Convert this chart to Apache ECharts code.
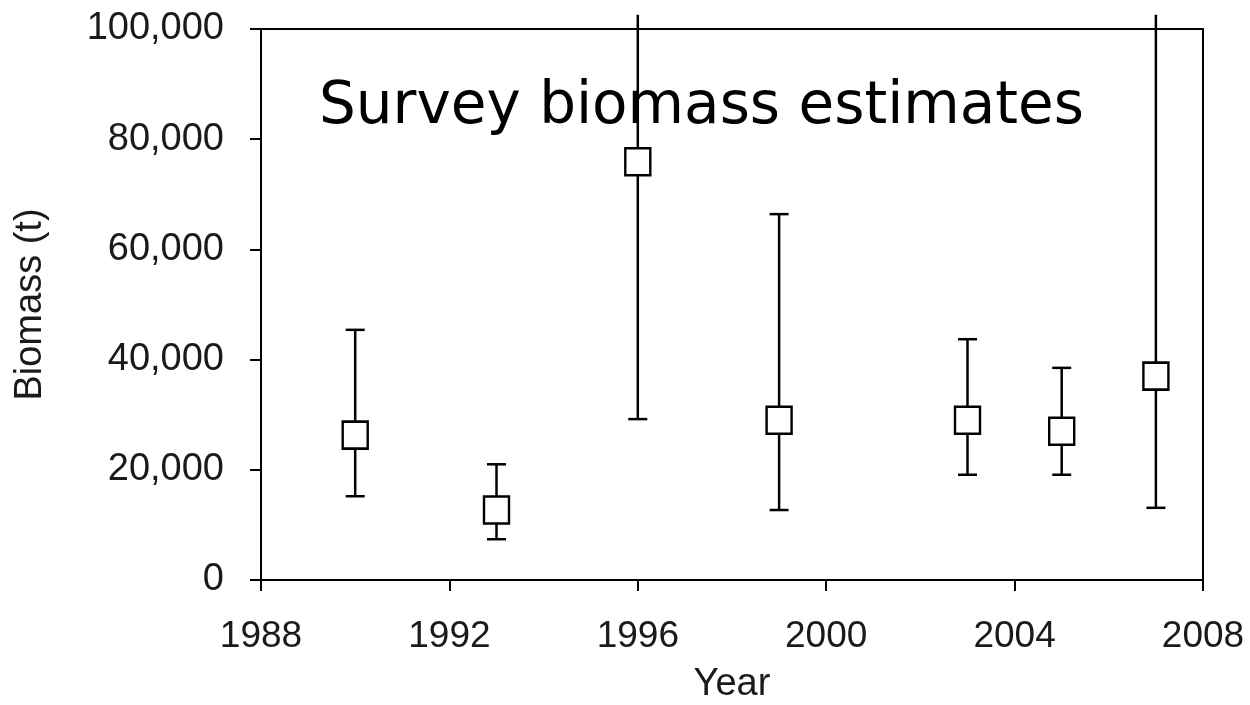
<!DOCTYPE html>
<html><head><meta charset="utf-8">
<script src="https://cdn.jsdelivr.net/npm/echarts@6/dist/echarts.min.js"></script>
<style>html,body{margin:0;padding:0;background:#fff}#c{width:1250px;height:705px}</style>
</head><body><div id="c"></div>
<script>
// Survey years and biomass estimates (t)
const years = [1990, 1993, 1996, 1999, 2003, 2005, 2007];
const biomass = [26300, 12700, 75900, 29000, 29000, 27000, 37000];
const lowerCI = [15200, 7400, 29200, 12700, 19100, 19100, 13100];
// upper bounds of 1996 and 2007 run off the top of the chart
const upperCI = [45400, 21000, 102600, 66400, 43700, 38500, 102600];
const xTicks = [1988, 1992, 1996, 2000, 2004, 2008];
const yMax = 100000;

const chart = echarts.init(document.getElementById('c'));
const fmt = v => String(v).replace(/\B(?=(\d{3})+(?!\d))/g, ',');
const txt = '#1a1a1a';
const font = '"Liberation Sans", Arial, sans-serif';

chart.setOption({
  animation: false,
  title: {
    text: 'Survey biomass estimates',
    left: 314, top: 74,
    textStyle: { fontFamily: '"Comic Sans MS", "DejaVu Sans", sans-serif', fontSize: 58, fontWeight: 'normal', color: '#000' }
  },
  grid: { left: 261, right: 47, top: 29, bottom: 125, outerBoundsMode: 'none', containLabel: false, show: true, borderColor: '#000', borderWidth: 2, backgroundColor: 'transparent' },
  xAxis: {
    type: 'value', min: 1988, max: 2008, interval: 4,
    name: 'Year', nameLocation: 'middle', nameGap: 86,
    nameTextStyle: { fontFamily: font, fontSize: 38, color: txt },
    axisLine: { show: true, onZero: false, lineStyle: { color: '#000', width: 2 } },
    axisTick: { show: true, length: 11, lineStyle: { color: '#000', width: 2 } },
    axisLabel: { fontFamily: font, fontSize: 37, color: txt, margin: 38, formatter: v => xTicks.includes(v) ? String(v) : '' },
    splitLine: { show: false }
  },
  yAxis: {
    type: 'value', min: 0, max: yMax, interval: 20000,
    name: 'Biomass (t)', nameLocation: 'middle', nameGap: 211, nameRotate: 90,
    nameTextStyle: { fontFamily: font, fontSize: 38, color: txt },
    axisLine: { show: true, lineStyle: { color: '#000', width: 2 } },
    axisTick: { show: true, length: 11, lineStyle: { color: '#000', width: 2 } },
    axisLabel: { fontFamily: font, fontSize: 38, color: txt, margin: 37, formatter: fmt },
    splitLine: { show: false }
  },
  series: [
    {
      type: 'custom', clip: false, z: 2,
      data: years.map((y, i) => [y, lowerCI[i], upperCI[i]]),
      renderItem: (params, api) => {
        const x = api.value(0);
        const lo = api.coord([x, api.value(1)]);
        const hiV = api.value(2);
        const hi = api.coord([x, hiV]);
        const cw = 9.5;
        const st = { stroke: '#000', lineWidth: 2.5 };
        const children = [
          { type: 'line', shape: { x1: lo[0], y1: lo[1], x2: hi[0], y2: hi[1] }, style: st },
          { type: 'line', shape: { x1: lo[0] - cw, y1: lo[1], x2: lo[0] + cw, y2: lo[1] }, style: st }
        ];
        if (hiV <= yMax) {
          children.push({ type: 'line', shape: { x1: hi[0] - cw, y1: hi[1], x2: hi[0] + cw, y2: hi[1] }, style: st });
        }
        return { type: 'group', children };
      }
    },
    {
      type: 'scatter', z: 5,
      data: years.map((y, i) => [y, biomass[i]]),
      symbol: 'rect', symbolSize: [25, 27],
      itemStyle: { color: '#fff', borderColor: '#000', borderWidth: 2.5, opacity: 1 }
    }
  ]
});
</script></body></html>
